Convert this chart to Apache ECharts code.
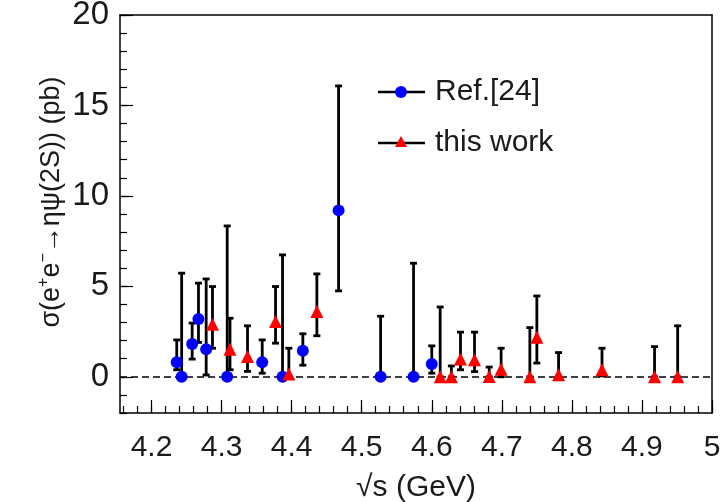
<!DOCTYPE html>
<html><head><meta charset="utf-8">
<script src="https://cdn.jsdelivr.net/npm/echarts@6/dist/echarts.min.js"></script>
<style>html,body{margin:0;padding:0;background:#fff}#c{width:720px;height:502px}</style>
</head><body><div id="c"></div>
<script>
// Ref.[24] (blue circles)
const refE  = [4.236, 4.243, 4.258, 4.267, 4.278, 4.308, 4.358, 4.387, 4.416, 4.467, 4.527, 4.574, 4.600];
const refXS = [0.81, 0.00, 1.82, 3.20, 1.53, 0.00, 0.81, 0.00, 1.44, 9.20, 0.00, 0.00, 0.71];
const refLo = [0.39, 0.00, 0.98, 1.90, 0.10, 0.00, 0.20, 0.00, 0.64, 4.75, 0.00, 0.00, 0.20];
const refHi = [2.04, 5.73, 2.97, 5.18, 5.41, 8.34, 2.04, 6.74, 2.38, 16.08, 3.35, 6.28, 1.71];
// this work (red triangles)
const thisE  = [4.287, 4.312, 4.337, 4.377, 4.396, 4.436, 4.612, 4.628, 4.641, 4.661, 4.682, 4.699, 4.740, 4.750, 4.781, 4.843, 4.918, 4.951];
const thisXS = [2.91, 1.53, 1.12, 3.06, 0.15, 3.61, 0.00, 0.00, 0.99, 0.94, 0.02, 0.42, 0.00, 2.19, 0.11, 0.39, 0.00, 0.00];
const thisLo = [1.58, 0.39, 0.30, 1.86, 0.00, 2.27, 0.00, 0.00, 0.39, 0.29, 0.00, 0.00, 0.00, 0.76, 0.00, 0.05, 0.00, 0.00];
const thisHi = [4.99, 3.24, 2.82, 4.99, 1.58, 5.69, 3.86, 0.60, 2.47, 2.47, 0.54, 1.58, 2.72, 4.47, 1.34, 1.58, 1.67, 2.82];
// axis tick labels
const xMajor = [4.2, 4.3, 4.4, 4.5, 4.6, 4.7, 4.8, 4.9, 5.0];
const xLabels = ['4.2', '4.3', '4.4', '4.5', '4.6', '4.7', '4.8', '4.9', '5'];
const yMajor = [0, 5, 10, 15, 20];
const yLabels = ['0', '5', '10', '15', '20'];

const X_MIN = 4.155, X_MAX = 5.0, Y_MIN = -2, Y_MAX = 20;
const G = { left: 120, top: 15, right: 8, bottom: 89 };
const W = 720 - G.left - G.right, H = 502 - G.top - G.bottom;
const kx = W / (X_MAX - X_MIN), ky = H / (Y_MAX - Y_MIN);

const FONT = '"Liberation Sans", Arial, Helvetica, sans-serif';
const TXT = '#1a1a1a';
const BLK = '#000';

function errRender(params, api) {
  const x = api.value(0), lo = api.value(1), hi = api.value(2);
  const p1 = api.coord([x, lo]), p2 = api.coord([x, hi]);
  const cw = 3.5;
  const style = { stroke: BLK, lineWidth: 2.8 };
  return { type: 'group', children: [
    { type: 'line', shape: { x1: p1[0], y1: p1[1], x2: p2[0], y2: p2[1] }, style },
    { type: 'line', shape: { x1: p1[0] - cw, y1: p1[1], x2: p1[0] + cw, y2: p1[1] }, style },
    { type: 'line', shape: { x1: p2[0] - cw, y1: p2[1], x2: p2[0] + cw, y2: p2[1] }, style }
  ]};
}
const fmtX = v => { const i = xMajor.findIndex(m => Math.abs(m - v) < 1e-6); return i >= 0 ? xLabels[i] : ''; };
const fmtY = v => { const i = yMajor.findIndex(m => Math.abs(m - v) < 1e-6); return i >= 0 ? yLabels[i] : ''; };

const gridBase = { show: false, containLabel: false, outerBoundsMode: 'none' };
const hidden = (gi) => ({ type: 'value', gridIndex: gi, show: false, min: 0, max: 1 });
const lineOnly = { show: true, onZero: false, lineStyle: { color: BLK, width: 1.5 } };
const noLine = { show: false, onZero: false };
const tickStyle = { color: BLK, width: 1.2 };

const chart = echarts.init(document.getElementById('c'), null, { renderer: 'canvas' });
chart.setOption({
  animation: false,
  backgroundColor: '#fff',
  grid: [
    // 0: data + frame
    Object.assign({ left: G.left, top: G.top, right: G.right, bottom: G.bottom }, gridBase),
    // 1: x major ticks (4.2 .. 5.0)
    Object.assign({ left: G.left + (4.2 - X_MIN) * kx, top: G.top, right: G.right, bottom: G.bottom }, gridBase),
    // 2: x minor ticks (4.16 .. 5.0)
    Object.assign({ left: G.left + (4.16 - X_MIN) * kx, top: G.top, right: G.right, bottom: G.bottom }, gridBase),
    // 3: y major labels (0 .. 20)
    Object.assign({ left: G.left, top: G.top, right: G.right, bottom: G.bottom + (0 - Y_MIN) * ky }, gridBase),
    // 4: y major ticks, axis on the right edge of a strip ending at the frame
    Object.assign({ left: 20, top: G.top, right: 720 - G.left, bottom: G.bottom + (0 - Y_MIN) * ky }, gridBase),
    // 5: y minor ticks (-2 .. 20)
    Object.assign({ left: 20, top: G.top, right: 720 - G.left, bottom: G.bottom }, gridBase)
  ],
  xAxis: [
    { type: 'value', gridIndex: 0, min: X_MIN, max: X_MAX, position: 'bottom',
      axisLine: lineOnly, axisTick: { show: false }, axisLabel: { show: false }, splitLine: { show: false },
      name: '√s (GeV)', nameLocation: 'middle', nameGap: 60,
      nameTextStyle: { fontSize: 30, fontFamily: FONT, color: TXT } },
    { type: 'value', gridIndex: 0, min: X_MIN, max: X_MAX, position: 'top',
      axisLine: lineOnly, axisTick: { show: false }, axisLabel: { show: false }, splitLine: { show: false } },
    { type: 'value', gridIndex: 1, min: 4.2, max: 5.0, interval: 0.1, position: 'bottom',
      axisLine: noLine,
      axisTick: { show: true, inside: true, length: 13, lineStyle: tickStyle },
      axisLabel: { show: true, formatter: fmtX, margin: 20, fontSize: 30, fontFamily: FONT, color: TXT },
      splitLine: { show: false } },
    { type: 'value', gridIndex: 2, min: 4.16, max: 5.0, interval: 0.02, position: 'bottom',
      axisLine: noLine,
      axisTick: { show: true, inside: true, length: 7, lineStyle: tickStyle },
      axisLabel: { show: false }, splitLine: { show: false } },
    hidden(3), hidden(4), hidden(5)
  ],
  yAxis: [
    { type: 'value', gridIndex: 0, min: Y_MIN, max: Y_MAX, position: 'left',
      axisLine: lineOnly, axisTick: { show: false }, axisLabel: { show: false }, splitLine: { show: false },
      name: '{a|σ(e}{s|+}{a|e}{s|−}{a|→ηψ(2S)) (pb)}', nameLocation: 'middle', nameGap: 52,
      nameTextStyle: { fontSize: 27, fontFamily: FONT, color: TXT, padding: [0, 0, 0, 24],
        rich: { a: { fontSize: 27, fontFamily: FONT, color: TXT, lineHeight: 32 },
                s: { fontSize: 16, fontFamily: FONT, color: TXT, verticalAlign: 'top', lineHeight: 32 } } } },
    { type: 'value', gridIndex: 0, min: Y_MIN, max: Y_MAX, position: 'right',
      axisLine: lineOnly, axisTick: { show: false }, axisLabel: { show: false }, splitLine: { show: false } },
    hidden(1), hidden(2),
    { type: 'value', gridIndex: 3, min: 0, max: 20, interval: 5, position: 'left',
      axisLine: noLine, axisTick: { show: false },
      axisLabel: { show: true, formatter: fmtY, margin: 11, fontSize: 33, fontFamily: FONT, color: TXT },
      splitLine: { show: false } },
    { type: 'value', gridIndex: 4, min: 0, max: 20, interval: 5, position: 'right',
      axisLine: noLine, axisTick: { show: true, inside: false, length: 13, lineStyle: tickStyle },
      axisLabel: { show: false }, splitLine: { show: false } },
    { type: 'value', gridIndex: 5, min: Y_MIN, max: Y_MAX, interval: 1, position: 'right',
      axisLine: noLine, axisTick: { show: true, inside: false, length: 7, lineStyle: tickStyle },
      axisLabel: { show: false }, splitLine: { show: false } }
  ],
  series: [
    { name: 'Ref.[24] err', type: 'custom', xAxisIndex: 0, yAxisIndex: 0, z: 2,
      renderItem: errRender, encode: { x: 0, y: [1, 2] },
      data: refE.map((e, i) => [e, refLo[i], refHi[i]]) },
    { name: 'this work err', type: 'custom', xAxisIndex: 0, yAxisIndex: 0, z: 2,
      renderItem: errRender, encode: { x: 0, y: [1, 2] },
      data: thisE.map((e, i) => [e, thisLo[i], thisHi[i]]) },
    { name: 'Ref.[24]', type: 'scatter', xAxisIndex: 0, yAxisIndex: 0, z: 4,
      symbol: 'circle', symbolSize: 12, itemStyle: { color: '#0000ff', opacity: 1 },
      data: refE.map((e, i) => [e, refXS[i]]),
      markLine: { silent: true, symbol: 'none', label: { show: false }, z: 1,
        lineStyle: { color: BLK, width: 1.5, type: [7, 4] }, data: [{ yAxis: 0 }] } },
    { name: 'this work', type: 'scatter', xAxisIndex: 0, yAxisIndex: 0, z: 5,
      symbol: 'triangle', symbolSize: 13, itemStyle: { color: '#ff0000', opacity: 1 },
      data: thisE.map((e, i) => [e, thisXS[i]]) }
  ],
  graphic: [
    { type: 'line', shape: { x1: 378, y1: 92, x2: 425, y2: 92 }, style: { stroke: BLK, lineWidth: 2.6 } },
    { type: 'circle', shape: { cx: 401, cy: 92, r: 6 }, style: { fill: '#0000ff' } },
    { type: 'text', x: 435, y: 92, style: { text: 'Ref.[24]', font: '30px ' + FONT, fill: TXT, verticalAlign: 'middle' } },
    { type: 'line', shape: { x1: 378, y1: 143, x2: 425, y2: 143 }, style: { stroke: BLK, lineWidth: 2.6 } },
    { type: 'polygon', shape: { points: [[401, 136], [407, 147], [395, 147]] }, style: { fill: '#ff0000' } },
    { type: 'text', x: 435, y: 143, style: { text: 'this work', font: '30px ' + FONT, fill: TXT, verticalAlign: 'middle' } }
  ]
});
</script></body></html>
